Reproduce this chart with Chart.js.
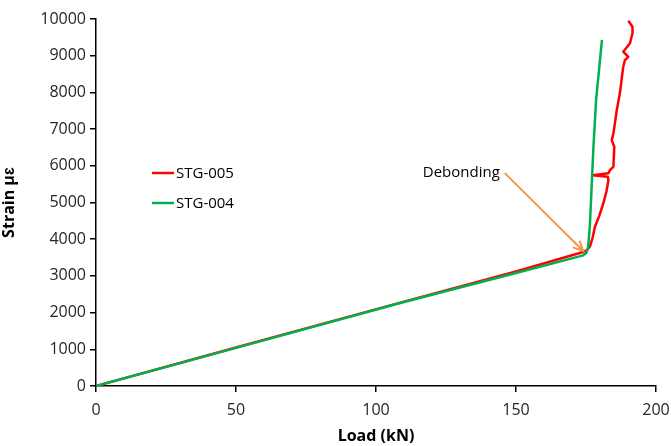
<!DOCTYPE html>
<html>
<head>
<meta charset="utf-8">
<script src="https://cdn.jsdelivr.net/npm/chart.js@4.4.1/dist/chart.umd.min.js"></script>
<style>
  body { margin: 0; background: #fff; }
  #wrap { width: 671px; height: 446px; }
</style>
</head>
<body>
<div id="wrap"><canvas id="chart" width="671" height="446"></canvas></div>
<script>
// STG-004 (green)
const load004 = [0, 50, 110, 150, 174, 175.2, 175.8, 176.4, 176.8, 177.6, 178.6, 180.7];
const strain004 = [0, 1040, 2290, 3080, 3560, 3630, 3800, 4400, 5070, 6430, 7790, 9430];

// STG-005 (red)
const load005 = [0, 50, 110, 150, 174, 175.3, 176.4, 177.4, 178.2, 179.8, 181.2, 182.3, 183.0, 182.8, 177.4, 183.0, 183.6, 184.8, 185.1, 184.2, 184.8, 186.0, 187.1, 188.3, 188.9, 190.1, 188.3, 190.7, 191.6, 191.6, 190.1];
const strain005 = [0, 1050, 2300, 3120, 3650, 3700, 3800, 4050, 4340, 4650, 4980, 5300, 5600, 5700, 5740, 5800, 5880, 5975, 6520, 6700, 6885, 7520, 7975, 8700, 8880, 8970, 9110, 9340, 9610, 9790, 9950];

const seriesNames = ['STG-005', 'STG-004'];

// annotation: text + arrow from (load, strain) to (load, strain)
const noteText = 'Debonding';
const noteFrom = [146, 5800];
const noteTo = [174, 3680];

const toPoints = (xs, ys) => xs.map((x, i) => ({ x: x, y: ys[i] }));

Chart.defaults.font.family = '"Open Sans", "Liberation Sans", sans-serif';
Chart.defaults.font.size = 16;
Chart.defaults.color = '#262626';

const legendPlugin = {
  id: 'insideLegend',
  afterDraw(chart) {
    const ctx = chart.ctx;
    const area = chart.chartArea;
    ctx.save();
    chart.data.datasets.forEach((ds, i) => {
      const x = area.left + 56;
      const y = area.top + 154 + i * 30;
      ctx.strokeStyle = ds.borderColor;
      ctx.lineWidth = 2.5;
      ctx.beginPath();
      ctx.moveTo(x, y);
      ctx.lineTo(x + 22, y);
      ctx.stroke();
      ctx.fillStyle = '#000';
      ctx.font = '15px "Open Sans", sans-serif';
      ctx.textBaseline = 'middle';
      ctx.fillText(ds.label, x + 24, y + 1);
    });
    ctx.restore();
  }
};

const notePlugin = {
  id: 'debondNote',
  afterDraw(chart) {
    const ctx = chart.ctx;
    const xs = chart.scales.x;
    const ys = chart.scales.y;
    const x0 = xs.getPixelForValue(noteFrom[0]);
    const y0 = ys.getPixelForValue(noteFrom[1]);
    const x1 = xs.getPixelForValue(noteTo[0]);
    const y1 = ys.getPixelForValue(noteTo[1]);
    ctx.save();
    ctx.strokeStyle = '#F79646';
    ctx.lineWidth = 2;
    ctx.beginPath();
    ctx.moveTo(x0, y0);
    ctx.lineTo(x1, y1);
    const a = Math.atan2(y1 - y0, x1 - x0);
    const h = 11;
    ctx.moveTo(x1 - h * Math.cos(a - 0.45), y1 - h * Math.sin(a - 0.45));
    ctx.lineTo(x1, y1);
    ctx.lineTo(x1 - h * Math.cos(a + 0.45), y1 - h * Math.sin(a + 0.45));
    ctx.stroke();
    ctx.fillStyle = '#000';
    ctx.font = '15px "Open Sans", sans-serif';
    ctx.textAlign = 'right';
    ctx.textBaseline = 'middle';
    ctx.fillText(noteText, x0 - 5, y0);
    ctx.restore();
  }
};

new Chart(document.getElementById('chart').getContext('2d'), {
  type: 'scatter',
  data: {
    datasets: [
      {
        label: seriesNames[0],
        data: toPoints(load005, strain005),
        borderColor: '#FF0000',
        backgroundColor: '#FF0000',
        showLine: true,
        borderWidth: 2.5,
        borderJoinStyle: 'round',
        pointRadius: 0,
        tension: 0,
        order: 2
      },
      {
        label: seriesNames[1],
        data: toPoints(load004, strain004),
        borderColor: '#00B050',
        backgroundColor: '#00B050',
        showLine: true,
        borderWidth: 2.5,
        borderJoinStyle: 'round',
        pointRadius: 0,
        tension: 0,
        order: 1
      }
    ]
  },
  options: {
    responsive: false,
    animation: false,
    layout: { padding: { top: 19, right: 15, left: 0, bottom: 0 } },
    plugins: {
      legend: { display: false },
      tooltip: { enabled: false }
    },
    scales: {
      x: {
        type: 'linear',
        min: 0,
        max: 200,
        ticks: { stepSize: 50, padding: 9 },
        grid: { drawOnChartArea: false, drawTicks: true, tickLength: 6, color: '#000', lineWidth: 1.5 },
        border: { color: '#000', width: 1.5 },
        title: { display: true, text: 'Load (kN)', font: { weight: 'bold', size: 16 }, color: '#000', padding: 0 },
        afterFit: (s) => { s.height = 60; s.paddingLeft = 0; s.paddingRight = 0; }
      },
      y: {
        type: 'linear',
        min: 0,
        max: 10000,
        ticks: { stepSize: 1000, padding: 4, callback: (v) => String(v) },
        grid: { drawOnChartArea: false, drawTicks: true, tickLength: 6, color: '#000', lineWidth: 1.5 },
        border: { color: '#000', width: 1.5 },
        title: { display: true, text: 'Strain \u03BC\u025B', font: { weight: 'bold', size: 16 }, color: '#000', padding: { top: 0, bottom: 4 } },
        afterFit: (s) => { s.width = 96; }
      }
    }
  },
  plugins: [legendPlugin, notePlugin]
});
</script>
</body>
</html>
